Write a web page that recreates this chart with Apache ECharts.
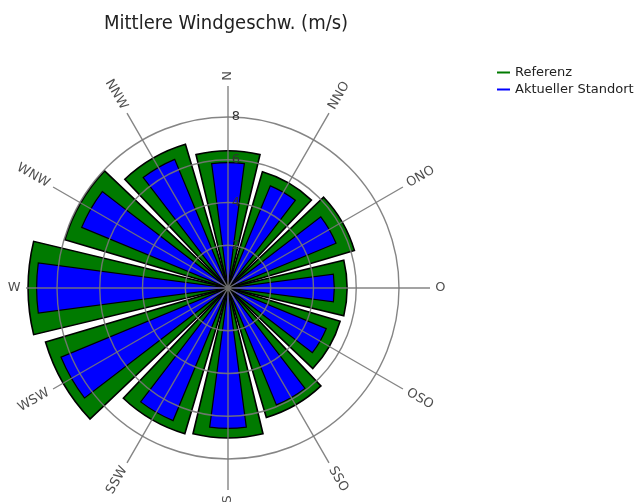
<!DOCTYPE html>
<html>
<head>
<meta charset="utf-8">
<script src="https://cdn.jsdelivr.net/npm/echarts@6/dist/echarts.min.js"></script>
<style>html,body{margin:0;padding:0;background:#fff}#c{width:635px;height:502px}</style>
</head>
<body>
<div id="c"></div>
<script>
var directions = ['N','NNO','ONO','O','OSO','SSO','S','SSW','WSW','W','WNW','NNW'];
var referenz = [6.45, 5.7, 6.2, 5.6, 5.5, 6.35, 7.05, 7.15, 8.95, 9.4, 8.0, 7.05];
var aktuell  = [5.9, 5.2, 5.5, 5.0, 5.0, 5.95, 6.6, 6.75, 8.5, 9.0, 7.45, 6.55];
var radiusTicks = [2, 4, 6, 8];
var titleText = 'Mittlere Windgeschw. (m/s)';
var seriesNames = ['Referenz', 'Aktueller Standort'];

var FONT = 'DejaVu Sans';
var CX = 228, CY = 288;
var chart = echarts.init(document.getElementById('c'), null, {renderer: 'canvas'});

var labelData = directions.map(function (d, i) {
  var theta = i * 30;
  var rot = 90 - theta;
  if (rot <= -90) rot += 180;
  return {value: [9.75, d], label: {rotate: rot, align: theta < 180 ? 'left' : 'right'}};
});

var gridColor = 'rgba(120,120,120,0.9)';

chart.setOption({
  animation: false,
  title: {
    text: titleText, left: 99, top: 9,
    textStyle: {fontFamily: "'DejaVu Sans Condensed', 'Liberation Sans'", fontSize: 20, fontWeight: 'normal', color: '#222'}
  },
  legend: {
    orient: 'vertical', left: 492, top: 61, itemGap: 4,
    icon: 'rect', itemWidth: 13, itemHeight: 2,
    itemStyle: {borderWidth: 0},
    textStyle: {fontFamily: FONT, fontSize: 13, color: '#222'},
    data: seriesNames
  },
  polar: [
    {center: [CX, CY], radius: 202},
    {center: [CX, CY], radius: 202},
    {center: [CX, CY], radius: 171},
    {center: [CX, CY], radius: 202}
  ],
  angleAxis: [
    {polarIndex: 0, type: 'category', data: directions, startAngle: 105, show: false},
    {polarIndex: 1, type: 'category', data: directions, startAngle: 105, show: false},
    {polarIndex: 2, type: 'value', min: 0, max: 360, interval: 30, startAngle: 90, show: false},
    {polarIndex: 3, type: 'value', min: 0, max: 360, interval: 30, startAngle: 90, z: 10,
      axisLine: {show: false}, axisTick: {show: false}, axisLabel: {show: false},
      splitLine: {show: true, lineStyle: {color: gridColor, width: 1.4}}}
  ],
  radiusAxis: [
    {polarIndex: 0, type: 'value', min: 0, max: 9.5, show: false},
    {polarIndex: 1, type: 'value', min: 0, max: 9.5, show: false},
    {polarIndex: 2, type: 'value', min: 0, max: 8, interval: 2, z: 12,
      axisLine: {show: false}, axisTick: {show: false},
      axisLabel: {show: true, fontFamily: FONT, fontSize: 13, color: '#333', margin: -12,
        formatter: function (v) { return radiusTicks.indexOf(v) >= 0 ? String(v) : ''; }},
      splitLine: {show: true, lineStyle: {color: gridColor, width: 1.4}}},
    {polarIndex: 3, type: 'value', min: 0, max: 9.5, show: false}
  ],
  series: [
    {name: seriesNames[0], type: 'bar', coordinateSystem: 'polar', polarIndex: 0,
      data: referenz, barWidth: '90%', z: 2,
      itemStyle: {color: '#007A00', borderColor: '#000', borderWidth: 1.6}},
    {name: seriesNames[1], type: 'bar', coordinateSystem: 'polar', polarIndex: 1,
      data: aktuell, barWidth: '50%', z: 3,
      itemStyle: {color: '#0000FF', borderColor: '#000', borderWidth: 1.2}},
    {type: 'scatter', coordinateSystem: 'polar', polarIndex: 0, symbolSize: 2, clip: false,
      itemStyle: {color: 'rgba(0,0,0,0)'},
      data: labelData, silent: true, z: 11,
      label: {show: true, position: 'inside', verticalAlign: 'middle',
        formatter: function (p) { return p.value[1]; },
        fontFamily: FONT, fontSize: 13, color: '#222'}}
  ]
});
</script>
</body>
</html>
